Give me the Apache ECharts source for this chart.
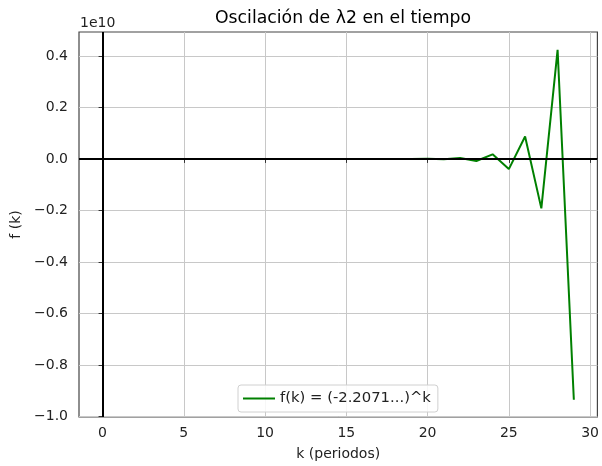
<!DOCTYPE html>
<html>
<head>
<meta charset="utf-8">
<script src="https://cdn.jsdelivr.net/npm/echarts@6/dist/echarts.min.js"></script>
<style>
  html, body { margin: 0; padding: 0; background: #fff; }
  #main { width: 602px; height: 466px; }
</style>
</head>
<body>
<div id="main"></div>
<script>
// k = 0..29
var kValues = [0, 1, 2, 3, 4, 5, 6, 7, 8, 9, 10, 11, 12, 13, 14, 15, 16, 17, 18, 19,
               20, 21, 22, 23, 24, 25, 26, 27, 28, 29];
// f(k) (escala 1e10)
var fValues = [1, -2.207, 4.871, -10.75, 23.73, -52.37, 115.6, -255.1, 563.1, -1242.8,
               2743, -6054, 13362, -29491, 65090, -143660, 317072, -699810, 1544550, -3408970,
               7523940, -16606100, 36651500, -80893500, 178540000, -394055000, 869719000,
               -1919556000, 4236652000, -9350815000];
var xTicks = [0, 5, 10, 15, 20, 25, 30];
var yTicks = [-1.0e10, -0.8e10, -0.6e10, -0.4e10, -0.2e10, 0, 0.2e10, 0.4e10];

var FONT = 'DejaVu Sans';
var myChart = echarts.init(document.getElementById('main'));

var pts = [];
for (var i = 0; i < kValues.length; i++) pts.push([kValues[i], fValues[i]]);

var option = {
    animation: false,
    backgroundColor: '#fff',
    title: {
        text: 'Oscilación de λ2 en el tiempo',
        left: 338, top: 5, textAlign: 'center',
        textStyle: { fontFamily: FONT, fontSize: 17.3, fontWeight: 'normal', color: '#000' }
    },
    graphic: [{
        type: 'text', left: 80, top: 16,
        style: { text: '1e10', font: '14px "DejaVu Sans"', fill: '#222' }
    }],
    legend: {
        left: 238, top: 385,
        data: [{ name: 'f(k) = (-2.2071...)^k', icon: 'rect' }],
        itemWidth: 32, itemHeight: 2,
        backgroundColor: 'rgba(255,255,255,0.85)',
        borderColor: '#d0d0d0', borderWidth: 1, borderRadius: 3,
        padding: [6, 7, 6, 5],
        textStyle: { fontFamily: FONT, fontSize: 14.8, color: '#222' }
    },
    grid: {
        left: 79, right: 4, top: 32, bottom: 48,
        show: true, borderColor: '#444', borderWidth: 1.2,
        containLabel: false
    },
    xAxis: {
        type: 'value', min: -1.45, max: 30.45,
        name: 'k (periodos)', nameLocation: 'middle', nameGap: 30,
        nameTextStyle: { fontFamily: FONT, fontSize: 14, color: '#222' },
        axisLine: { show: false },
        axisTick: { show: true, inside: false, length: 4, lineStyle: { color: '#333' }, customValues: xTicks },
        axisLabel: { fontFamily: FONT, fontSize: 14, color: '#222', margin: 9, customValues: xTicks },
        splitLine: { show: true, lineStyle: { color: '#c8c8c8', width: 1 } }
    },
    yAxis: {
        type: 'value', min: -1.002e10, max: 0.4928e10,
        name: 'f (k)', nameLocation: 'middle', nameGap: 54,
        nameTextStyle: { fontFamily: FONT, fontSize: 14, color: '#222' },
        axisLine: { show: false },
        axisTick: { show: true, inside: false, length: 4, lineStyle: { color: '#333' }, customValues: yTicks },
        axisLabel: {
            fontFamily: FONT, fontSize: 14, color: '#222', margin: 11, customValues: yTicks,
            formatter: function (v) { return (v / 1e10).toFixed(1).replace('-', '\u2212'); }
        },
        splitLine: { show: true, lineStyle: { color: '#c8c8c8', width: 1 } }
    },
    series: [{
        name: 'f(k) = (-2.2071...)^k',
        type: 'line',
        data: pts,
        symbol: 'none',
        lineStyle: { color: '#008000', width: 2 },
        itemStyle: { color: '#008000' },
        markLine: {
            silent: true, symbol: ['none', 'none'],
            label: { show: false },
            lineStyle: { color: '#000', width: 2, type: 'solid' },
            data: [{ xAxis: 0 }, { yAxis: 0 }]
        }
    }]
};
myChart.setOption(option);
</script>
</body>
</html>
